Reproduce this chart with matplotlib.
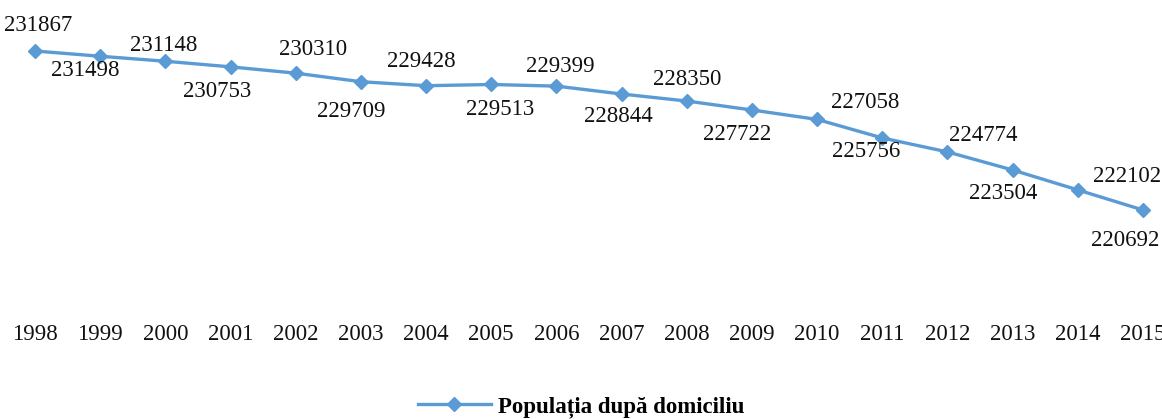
import matplotlib.pyplot as plt

# date
ani = list(range(1998, 2016))
populatie = [231867, 231498, 231148, 230753, 230310, 229709, 229428, 229513, 229399,
             228844, 228350, 227722, 227058, 225756, 224774, 223504, 222102, 220692]
eticheta = 'Populația după domiciliu'

plt.rcParams['font.family'] = ['Liberation Serif', 'DejaVu Serif']
culoare = '#5B9BD5'

fig = plt.figure(figsize=(11.62, 4.19), dpi=100)
ax = fig.add_axes([0, 0, 1, 1])

# scara: 1998 -> x=35px, 2015 -> x=1143px ; 231867 -> y=51px, 220692 -> y=210px
px_an = (1143 - 35) / 17
px_val = (210 - 51) / (231867 - 220692)
ax.set_xlim(1998 - 35 / px_an, 1998 + (1162 - 35) / px_an)
ax.set_ylim(231867 - (419 - 51) / px_val, 231867 + 51 / px_val)
ax.axis('off')

ax.plot(ani, populatie, color=culoare, lw=2.4, marker='D', markersize=7,
        label=eticheta, clip_on=False)

# pozitia etichetelor (pixeli fata de punct): sus pentru anii pari, jos pentru impari
deplasare = {1998: (3, 26), 1999: (-15, -14), 2000: (-2, 16), 2001: (-13, -25),
             2002: (17, 24), 2003: (-10, -30), 2004: (-5, 24), 2005: (9, -25),
             2006: (4, 20), 2007: (-3, -22), 2008: (0, 22), 2009: (-15, -25),
             2010: (48, 17), 2011: (-16, -14), 2012: (36, 16), 2013: (-9, -24),
             2014: (49, 13), 2015: (-18, -30)}
for a, v in zip(ani, populatie):
    dx, dy = deplasare[a]
    ax.annotate(str(v), (a, v), xytext=(dx * 0.72, dy * 0.72), textcoords='offset points',
                ha='center', va='center', fontsize=16.5, color='#111111')

# etichete ani
for a in ani:
    ax.text(a, 1 - 335 / 419, str(a), transform=ax.get_xaxis_transform(),
            ha='center', va='center', fontsize=16.5, color='#111111')

leg = fig.legend(loc='center', bbox_to_anchor=(0.5, 1 - 407 / 419), frameon=False,
                 handlelength=3.2, handletextpad=0.3,
                 prop={'weight': 'bold', 'size': 16.5})

fig.savefig('out.png', dpi=100)
